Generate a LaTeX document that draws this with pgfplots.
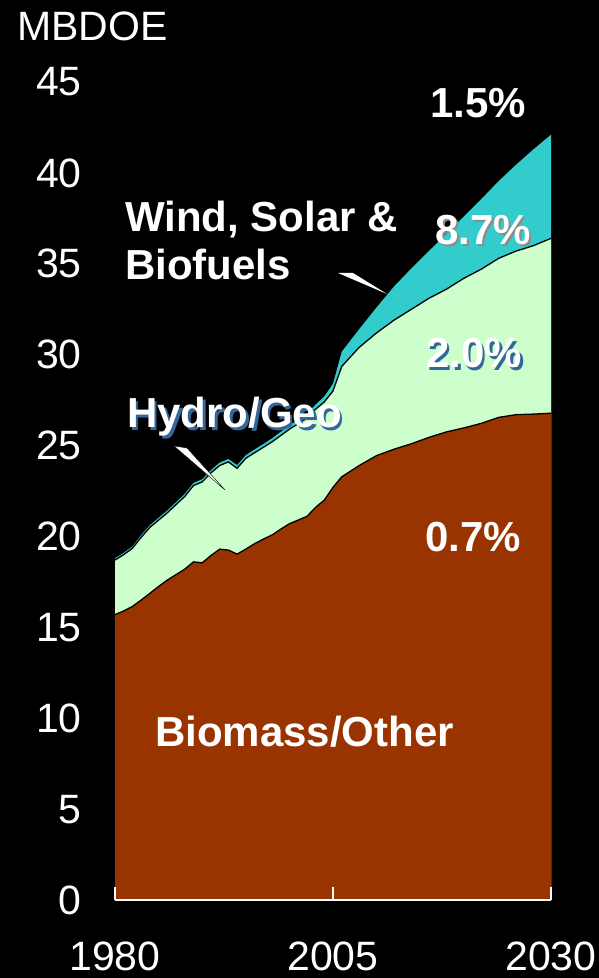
\documentclass[border=0pt]{standalone}
\usepackage{fontspec}
\setmainfont{Liberation Sans}
\usepackage{pgfplots}
\pgfplotsset{compat=1.18}
\usepackage{pgfplotstable}
\definecolor{brownc}{HTML}{993300}
\definecolor{greenc}{HTML}{CCFFCC}
\definecolor{tealc}{HTML}{33CCCC}
\definecolor{shadowc}{HTML}{336699}

\pgfplotstableread{
year B H W
1980 15.7 18.7 18.8
1981 15.9 19.0 19.1
1982 16.15 19.35 19.45
1983 16.5 19.95 20.07
1984 16.87 20.5 20.62
1985 17.25 20.9 21.03
1986 17.6 21.3 21.43
1987 17.9 21.75 21.88
1988 18.2 22.2 22.34
1989 18.6 22.8 22.94
1990 18.55 23.0 23.15
1991 18.95 23.5 23.65
1992 19.3 23.9 24.06
1993 19.25 24.1 24.26
1994 19.03 23.75 23.92
1995 19.3 24.3 24.47
1996 19.6 24.6 24.78
1997 19.85 24.9 25.08
1998 20.08 25.2 25.39
1999 20.4 25.55 25.75
2000 20.7 25.9 26.1
2001 20.9 26.2 26.42
2002 21.1 26.5 26.73
2003 21.6 27.0 27.25
2004 22.0 27.4 27.7
2005 22.7 28.0 28.4
2006 23.28 29.35 30.16
2008 23.9 30.4 31.4
2010 24.45 31.2 32.6
2012 24.8 31.9 33.75
2014 25.1 32.5 34.75
2016 25.45 33.1 35.7
2018 25.75 33.6 36.65
2020 25.97 34.2 37.6
2022 26.22 34.7 38.55
2024 26.55 35.3 39.55
2026 26.7 35.7 40.45
2028 26.73 36.0 41.3
2030 26.78 36.4 42.1
}\datatab

\newcommand{\bigfont}{\fontsize{41}{49}\selectfont}
\newcommand{\boldfont}{\fontsize{42}{50}\selectfont\bfseries}

\begin{document}
\begin{tikzpicture}
\fill[black] (0pt,0pt) rectangle (599pt,978pt);
\begin{axis}[
  at={(115pt,78pt)}, anchor=south west,
  scale only axis, width=436pt, height=818pt,
  xmin=1980, xmax=2030, ymin=0, ymax=45,
  axis on top,
  axis x line*=bottom, axis y line*=left,
  y axis line style={draw=none},
  x axis line style={white, line width=1.2pt},
  xtick={1980,2005,2030}, ytick={0,5,...,45},
  xtick style={white, line width=1.2pt},
  ytick style={draw=none},
  tick align=inside, major tick length=13pt,
  ticklabel style={font=\bigfont, text=white, inner sep=0pt},
  xticklabel style={anchor=north, yshift=-42pt},
  yticklabel style={anchor=east, xshift=-33pt},
  /pgf/number format/1000 sep={},
  /pgf/number format/assume math mode=true,
]
\addplot[fill=tealc, draw=none] table[x=year,y=W]{\datatab} \closedcycle;
\addplot[fill=greenc, draw=none] table[x=year,y=H]{\datatab} \closedcycle;
\addplot[fill=brownc, draw=none] table[x=year,y=B]{\datatab} \closedcycle;
\addplot[black, line width=1.3pt] table[x=year,y=H]{\datatab};
\addplot[black, line width=1.3pt] table[x=year,y=B]{\datatab};
\end{axis}
% pointer wedges
\filldraw[fill=white, draw=black, line width=0.4pt] (174pt,532pt) -- (187pt,530pt) -- (225pt,488pt) -- cycle;
\fill[white] (338pt,705pt) -- (353pt,705pt) -- (387pt,684pt) -- cycle;
% labels
\node[anchor=base west, inner sep=0pt, text=white, font=\bigfont] at (17pt,937pt) {MBDOE};
\node[anchor=base west, inner sep=0pt, text=white, font=\boldfont] at (125pt,746pt) {Wind, Solar \&};
\node[anchor=base west, inner sep=0pt, text=white, font=\boldfont] at (125pt,698pt) {Biofuels};
\node[anchor=base west, inner sep=0pt, text=shadowc, font=\boldfont] at (129.5pt,547.5pt) {Hydro/Geo};
\node[anchor=base west, inner sep=0pt, text=white, font=\boldfont] at (127pt,550pt) {Hydro/Geo};
\node[anchor=base west, inner sep=0pt, text=white, font=\boldfont] at (430pt,860pt) {1.5\%};
\node[anchor=base west, inner sep=0pt, text=black!45, font=\boldfont] at (437pt,731pt) {8.7\%};
\node[anchor=base west, inner sep=0pt, text=white, font=\boldfont] at (435pt,733pt) {8.7\%};
\node[anchor=base west, inner sep=0pt, text=shadowc, font=\boldfont] at (428.5pt,607.5pt) {2.0\%};
\node[anchor=base west, inner sep=0pt, text=white, font=\boldfont] at (426pt,610pt) {2.0\%};
\node[anchor=base west, inner sep=0pt, text=white, font=\boldfont] at (425pt,426pt) {0.7\%};
\node[anchor=base west, inner sep=0pt, text=white, font=\boldfont] at (155pt,231pt) {Biomass/Other};
\end{tikzpicture}
\end{document}
